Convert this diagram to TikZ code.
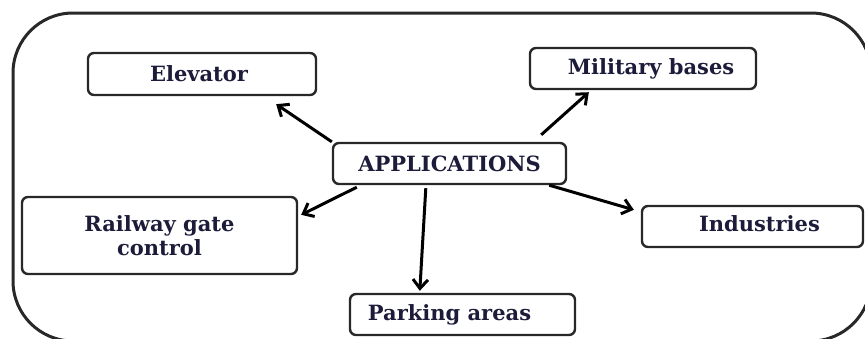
\documentclass[tikz,border=0pt]{standalone}
\usepackage{fontspec}
\setmainfont{DejaVu Serif}
\usetikzlibrary{arrows.meta,calc}
\definecolor{txt}{RGB}{28,28,58}
\definecolor{edgecol}{RGB}{40,40,40}
\begin{document}
\begin{tikzpicture}[x=1pt,y=-1pt,
  box/.style={draw=edgecol, line width=2.4pt, rounded corners=6pt, fill=white,
    font=\bfseries\fontsize{21}{24}\selectfont, text=txt, inner sep=0pt, align=center},
  arr/.style={line width=3pt, black, -{Straight Barb[length=9pt,width=15pt,line width=3pt]}}]
\useasboundingbox (0,0) rectangle (865,338);
\clip (0,0) rectangle (865,338);
\draw[edgecol, line width=3pt, rounded corners=60pt] (13,13) rectangle (871,341);
\node[box, minimum width=228pt, minimum height=42pt] (elev) at (202,74) {Elevator\hspace*{6pt}};
\node[box, minimum width=226pt, minimum height=41pt] (mil) at (643,68.5) {\hspace*{16pt}Military bases};
\node[box, minimum width=233pt, minimum height=41pt] (app) at (449.5,163.5) {APPLICATIONS};
\node[box, minimum width=275pt, minimum height=77pt] (rail) at (159.5,235.5) {Railway gate\\control};
\node[box, minimum width=225pt, minimum height=41pt] (park) at (462.5,314.5) {Parking areas\hspace*{26pt}};
\node[box, minimum width=221pt, minimum height=41pt] (ind) at (752.5,226.5) {\raisebox{5pt}{\hspace*{14pt}Industries}};
\draw[arr] (app.north west) -- ($(elev.south east)+(-41,8)$);
\draw[arr] ($(app.north east)+(-26,-7)$) -- ($(mil.south west)+(60,2)$);
\draw[arr] ($(app.south west)+(25,2)$) -- ($(rail.north east)+(3,19)$);
\draw[arr] ($(app.south west)+(94,3)$) -- ($(park.north west)+(71,-2)$);
\draw[arr] ($(app.south east)+(-18,0)$) -- ($(ind.north west)+(-7,5)$);
\end{tikzpicture}
\end{document}
